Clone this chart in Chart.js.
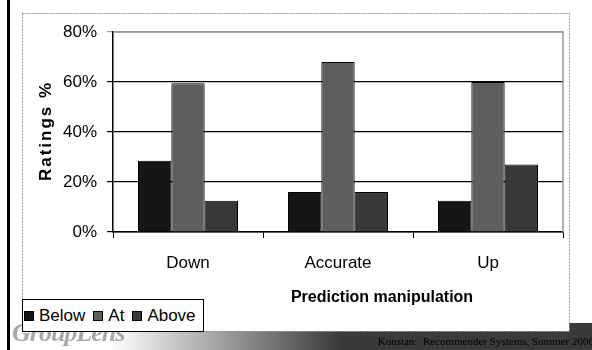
<!DOCTYPE html>
<html>
<head>
<meta charset="utf-8">
<script src="https://cdn.jsdelivr.net/npm/chart.js@4.4.1/dist/chart.umd.min.js"></script>
<style>
  html, body { margin: 0; padding: 0; background: #fff; }
  #wrap { position: relative; width: 592px; height: 350px; overflow: hidden; }
  #chart { position: absolute; left: 0; top: 0; }
  #legend {
    position: absolute; left: 22px; top: 299px; width: 180px; height: 31px;
    background: #fff; border: 1px solid #000;
    font: 17px "Liberation Sans", Arial, sans-serif; color: #000;
    display: flex; align-items: center; white-space: nowrap;
  }
  #legend span.sw { display: inline-block; width: 8px; height: 8px; border: 1px solid #000; margin: 0 5px 0 1px; }
  #legend span.lb { margin-right: 7px; }
  #logo {
    position: absolute; left: 12px; top: 318px;
    font: bold italic 26px "Liberation Serif", serif; color: #a8a8a8; letter-spacing: -1px;
  }
  #footer {
    position: absolute; right: -2px; top: 335px;
    font: 11px "Liberation Serif", "Times New Roman", serif; color: #000; white-space: pre;
  }
</style>
</head>
<body>
<div id="wrap">
  <canvas id="chart" width="592" height="350"></canvas>
  <div id="logo">GroupLens</div>
  <div id="legend"></div>
  <div id="footer">Konstan:  Recommender Systems, Summer 2006</div>
</div>
<script>
// data
const categories = ["Down", "Accurate", "Up"];
const seriesNames = ["Below", "At", "Above"];
const below = [28.5, 16, 12.5];
const at = [59.5, 68, 60];
const above = [12.5, 16, 27];
const yTicks = [0, 20, 40, 60, 80];

const seriesColors = ["#161616", "#5e5e5e", "#383838"];
const seriesValues = [below, at, above];

// slide decorations: side rule, footer band, dashed chart box, titles
const decor = {
    id: "decor",
    beforeDraw(chart) {
        const ctx = chart.ctx;
        ctx.save();
        ctx.fillStyle = "#fff";
        ctx.fillRect(0, 0, 592, 350);
        // footer band
        const g = ctx.createLinearGradient(110, 0, 340, 0);
        g.addColorStop(0, "#ffffff");
        g.addColorStop(1, "#3a3a3a");
        ctx.fillStyle = g;
        ctx.fillRect(10, 323, 582, 27);
        // chart box
        ctx.fillStyle = "#fff";
        ctx.fillRect(22, 13, 547, 318);
        ctx.setLineDash([2, 1]);
        ctx.strokeStyle = "#999";
        ctx.lineWidth = 1;
        ctx.strokeRect(22.5, 13.5, 547, 318);
        ctx.setLineDash([]);
        // side rule
        ctx.fillStyle = "#000";
        ctx.fillRect(7, 0, 3, 350);
        ctx.restore();
    },
    afterDraw(chart) {
        const ctx = chart.ctx;
        const a = chart.chartArea;
        ctx.save();
        // plot frame top/right in gray
        ctx.strokeStyle = "#999";
        ctx.lineWidth = 1.5;
        ctx.beginPath();
        ctx.moveTo(a.left, a.top);
        ctx.lineTo(a.right, a.top);
        ctx.lineTo(a.right, a.bottom);
        ctx.stroke();
        // axis titles
        ctx.fillStyle = "#000";
        ctx.font = "bold 16px 'Liberation Sans', Arial, sans-serif";
        ctx.textAlign = "center";
        ctx.textBaseline = "middle";
        ctx.fillText("Prediction manipulation", 382, 298);
        ctx.translate(46, 131);
        ctx.rotate(-Math.PI / 2);
        ctx.font = "bold 17px 'Liberation Sans', Arial, sans-serif";
        ctx.letterSpacing = "2px";
        ctx.fillText("Ratings %", 0, 0);
        ctx.restore();
    }
};

new Chart(document.getElementById("chart"), {
    type: "bar",
    data: {
        labels: categories,
        datasets: seriesNames.map((name, i) => ({
            label: name,
            data: seriesValues[i],
            backgroundColor: seriesColors[i],
            borderColor: "#000",
            borderWidth: 1,
            categoryPercentage: 0.667,
            barPercentage: 1
        }))
    },
    options: {
        responsive: false,
        animation: false,
        devicePixelRatio: 1,
        layout: { padding: { top: 32, right: 29, left: 0, bottom: 0 } },
        plugins: { legend: { display: false }, tooltip: { enabled: false } },
        scales: {
            x: {
                offset: true,
                grid: { offset: true, drawOnChartArea: false, tickLength: 6, color: "#000" },
                border: { color: "#000", width: 1.5 },
                ticks: { color: "#000", padding: 15, font: { family: "'Liberation Sans', Arial, sans-serif", size: 17 } },
                afterFit: (s) => { s.height = 118; }
            },
            y: {
                min: 0,
                max: 80,
                afterBuildTicks: (s) => { s.ticks = yTicks.map(v => ({ value: v })); },
                grid: {
                    tickLength: 6,
                    lineWidth: 1.2,
                    color: (c) => (c.tick && c.tick.value === 80 ? "#999" : "#000")
                },
                border: { color: "#000", width: 1.5 },
                ticks: {
                    color: "#000",
                    padding: 10,
                    font: { family: "'Liberation Sans', Arial, sans-serif", size: 17 },
                    callback: (v) => v + "%"
                },
                afterFit: (s) => { s.width = 113; }
            }
        }
    },
    plugins: [decor]
});

// legend built from the same series arrays
const legend = document.getElementById("legend");
seriesNames.forEach((name, i) => {
    const sw = document.createElement("span");
    sw.className = "sw";
    sw.style.background = seriesColors[i];
    const lb = document.createElement("span");
    lb.className = "lb";
    lb.textContent = name;
    legend.appendChild(sw);
    legend.appendChild(lb);
});
</script>
</body>
</html>
